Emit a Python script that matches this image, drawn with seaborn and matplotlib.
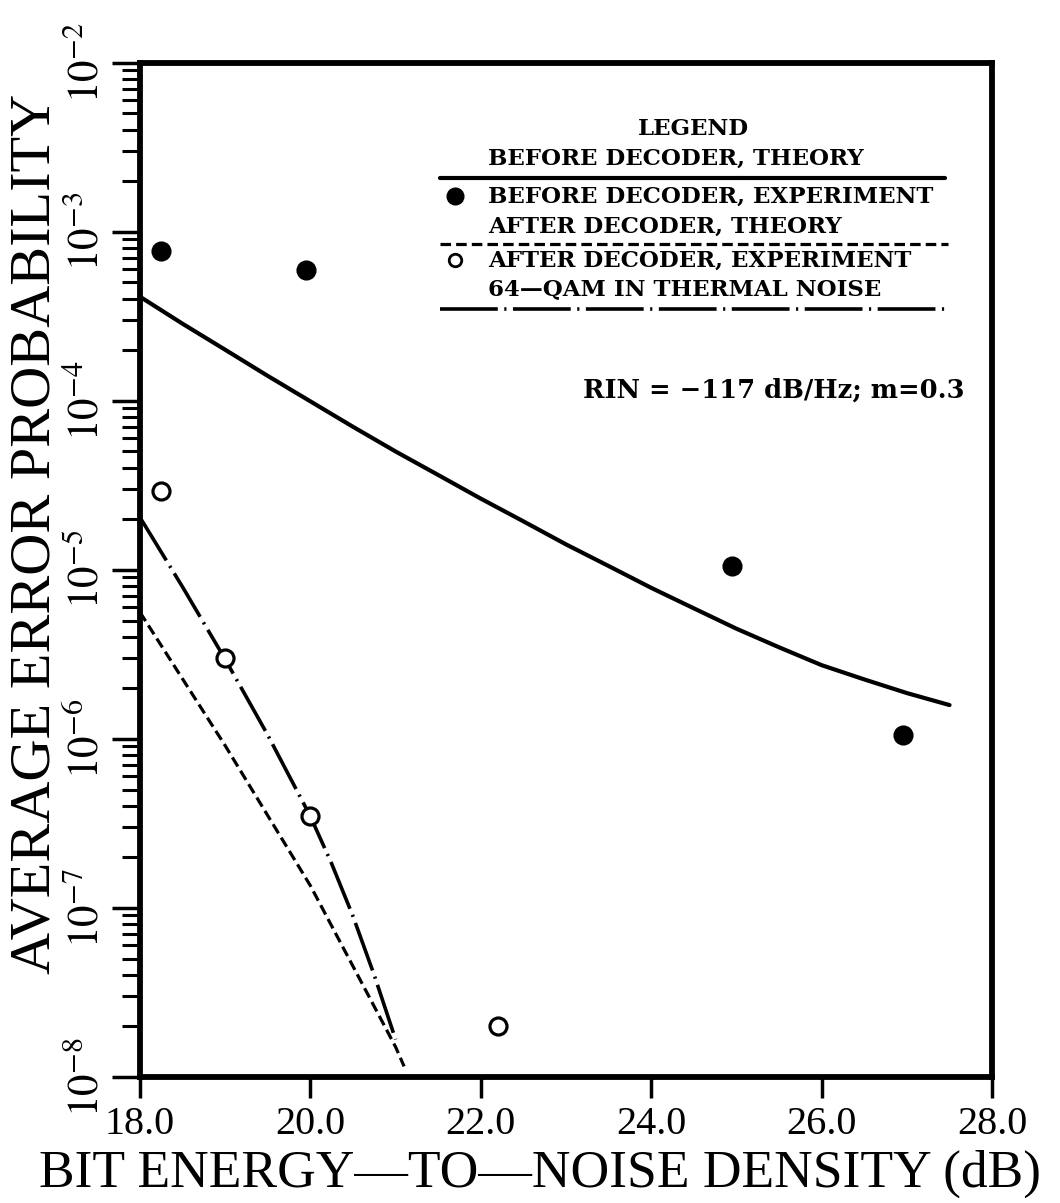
import numpy as np
import matplotlib
matplotlib.use("Agg")
import matplotlib.pyplot as plt
from matplotlib.ticker import LogLocator, NullFormatter
import seaborn as sns

# before decoder, theory (solid)
x_bd_theory = [18.0, 18.5, 19.0, 19.5, 20.0, 20.5, 21.0, 21.5, 22.0, 22.5, 23.0, 23.5,
               24.0, 24.5, 25.0, 25.5, 26.0, 26.5, 27.0, 27.5]
y_bd_theory = [4.12e-4, 2.85e-4, 2.0e-4, 1.40e-4, 9.9e-5, 7.0e-5, 5.0e-5, 3.63e-5, 2.63e-5, 1.93e-5,
               1.41e-5, 1.05e-5, 7.8e-6, 5.9e-6, 4.47e-6, 3.47e-6, 2.72e-6, 2.24e-6, 1.86e-6, 1.58e-6]

# before decoder, experiment (filled dots)
x_bd_exp = [18.25, 19.95, 24.95, 26.95]
y_bd_exp = [7.7e-4, 5.9e-4, 1.05e-5, 1.05e-6]

# after decoder, theory (dashed)
x_ad_theory = [18.0, 19.0, 20.0, 21.0, 21.1]
y_ad_theory = [5.6e-6, 9.1e-7, 1.35e-7, 1.5e-8, 1.15e-8]

# after decoder, experiment (open circles)
x_ad_exp = [18.25, 19.0, 20.0, 22.2]
y_ad_exp = [2.9e-5, 3.0e-6, 3.5e-7, 2.0e-8]

# 64-QAM in thermal noise (dash-dot)
x_qam = [18.0, 18.5, 19.0, 19.5, 20.0, 20.25, 20.5, 20.75, 21.0]
y_qam = [2.04e-5, 7.9e-6, 2.95e-6, 1.05e-6, 3.47e-7, 1.82e-7, 8.9e-8, 3.98e-8, 1.66e-8]

xticks = [18.0, 20.0, 22.0, 24.0, 26.0, 28.0]
ydecades = [-8, -7, -6, -5, -4, -3, -2]

sns.set_style("ticks")
plt.rcParams['font.family'] = ['Liberation Serif', 'DejaVu Serif']
plt.rcParams['mathtext.fontset'] = 'stix'
plt.rcParams['text.color'] = 'black'
plt.rcParams['axes.labelcolor'] = 'black'
plt.rcParams['xtick.color'] = 'black'
plt.rcParams['ytick.color'] = 'black'

fig = plt.figure(figsize=(10.6, 12.03), dpi=100)
ax = fig.add_axes([0.132, 0.105, 0.804, 0.843])

dashes_ad = (0, (3.3, 1.6))
dashdot = (0, (14, 1.8, 0.6, 1.8))
sns.lineplot(x=x_bd_theory, y=y_bd_theory, color='black', lw=3.0, ax=ax)
sns.lineplot(x=x_ad_theory, y=y_ad_theory, color='black', lw=2.3, linestyle=dashes_ad, ax=ax)
sns.lineplot(x=x_qam, y=y_qam, color='black', lw=2.6, linestyle=dashdot, ax=ax)
sns.scatterplot(x=x_bd_exp, y=y_bd_exp, color='black', s=180, marker='o', edgecolor='black', zorder=5, ax=ax)
sns.scatterplot(x=x_ad_exp, y=y_ad_exp, facecolor='white', s=150, marker='o', edgecolor='black',
                linewidth=2.3, zorder=5, ax=ax)

ax.set_yscale('log')
ax.set_xlim(18, 28)
ax.set_ylim(1e-8, 1e-2)

ax.set_xticks(xticks)
ax.set_xticklabels([f"{v:.1f}" for v in xticks], fontsize=29)
ax.set_yticks([10.0 ** d for d in ydecades])
ax.set_yticklabels([f"$10^{{{d}}}$" for d in ydecades], fontsize=31, rotation=90, va='center')
ax.yaxis.set_minor_locator(LogLocator(base=10, subs=np.arange(2, 10), numticks=20))
ax.yaxis.set_minor_formatter(NullFormatter())

ax.tick_params(axis='both', which='major', direction='out', length=20, width=2.5, color='black')
ax.tick_params(axis='y', which='major', pad=3)
ax.tick_params(axis='y', which='minor', direction='out', length=13, width=2.2, color='black')
ax.tick_params(axis='x', which='major', length=15, pad=6)
for sp in ax.spines.values():
    sp.set_linewidth(4.2)
    sp.set_color('black')

ax.set_xlabel("BIT ENERGY—TO—NOISE DENSITY (dB)", fontsize=38.5)
ax.set_ylabel("AVERAGE ERROR PROBABILITY", fontsize=42)
ax.xaxis.set_label_coords(0.47, -0.072)
ax.yaxis.set_label_coords(-0.092, 0.535)

# legend drawn by hand, in axes fraction
tr = ax.transAxes
lfont = dict(family='DejaVu Serif', weight='bold', fontsize=16.5, transform=tr)
ax.text(0.649, 0.934, "LEGEND", ha='center', va='center', **lfont)
ax.text(0.408, 0.905, "BEFORE DECODER, THEORY", ha='left', va='center', **lfont)
ax.plot([0.352, 0.945], [0.886, 0.886], color='black', lw=3.0, transform=tr)
ax.plot([0.370], [0.868], 'o', color='black', ms=12, transform=tr)
ax.text(0.408, 0.868, "BEFORE DECODER, EXPERIMENT", ha='left', va='center', **lfont)
ax.text(0.408, 0.838, "AFTER DECODER, THEORY", ha='left', va='center', **lfont)
ax.plot([0.352, 0.948], [0.821, 0.821], color='black', lw=2.3, linestyle=dashes_ad, transform=tr)
ax.plot([0.370], [0.805], 'o', mfc='white', mec='black', mew=2.0, ms=9, transform=tr)
ax.text(0.408, 0.805, "AFTER DECODER, EXPERIMENT", ha='left', va='center', **lfont)
ax.text(0.408, 0.777, "64—QAM IN THERMAL NOISE", ha='left', va='center', **lfont)
ax.plot([0.352, 0.948], [0.757, 0.757], color='black', lw=2.6, linestyle=(0, (16, 1.8, 0.6, 1.8)), transform=tr)
ax.text(0.52, 0.677, "RIN = −117 dB/Hz; m=0.3", ha='left', va='center',
        **{**lfont, 'fontsize': 18.5})

fig.savefig("out.png", dpi=100)
